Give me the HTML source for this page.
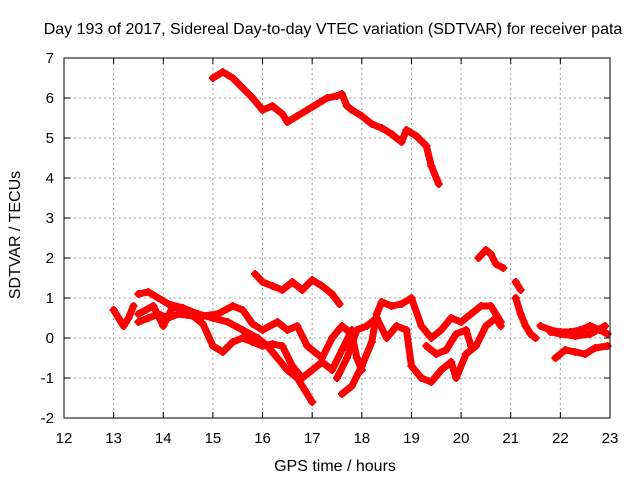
<!DOCTYPE html>
<html><head><meta charset="utf-8"><style>
body{margin:0;background:#fff;}
svg{display:block;font-family:"Liberation Sans",sans-serif;}
</style></head><body>
<svg id="chart" width="640" height="480" viewBox="0 0 640 480">
<text x="333" y="34" font-size="16" text-anchor="middle">Day 193 of 2017, Sidereal Day-to-day VTEC variation (SDTVAR) for receiver pata</text>
<text x="335" y="471" font-size="16" text-anchor="middle">GPS time / hours</text>
<text transform="translate(20,235) rotate(-90)" font-size="16" text-anchor="middle">SDTVAR / TECUs</text>
<g id="grid"></g><g id="series"></g><g id="axes"></g>
</svg>
<script>
const xTicks=[12,13,14,15,16,17,18,19,20,21,22,23];
const yTicks=[-2,-1,0,1,2,3,4,5,6,7];
const trackA=[[15.0,6.5],[15.2,6.65],[15.4,6.5],[15.6,6.25],[15.8,6.0],[16.0,5.7],[16.2,5.8],[16.4,5.6],[16.5,5.4],[16.7,5.55],[16.9,5.7],[17.1,5.85],[17.3,6.0],[17.5,6.05],[17.6,6.1],[17.7,5.8],[17.8,5.7],[18.0,5.55],[18.2,5.35],[18.4,5.25],[18.6,5.1],[18.8,4.9],[18.9,5.2],[19.1,5.05],[19.3,4.8],[19.4,4.3],[19.55,3.85]];
const trackB=[[15.85,1.6],[16.0,1.4],[16.2,1.3],[16.4,1.2],[16.6,1.4],[16.8,1.2],[17.0,1.45],[17.2,1.3],[17.4,1.1],[17.55,0.85]];
const trackC=[[13.5,1.1],[13.7,1.15],[13.9,1.0],[14.1,0.85],[14.4,0.75],[14.7,0.6],[15.0,0.5],[15.3,0.4],[15.6,0.2],[15.9,0.0],[16.1,-0.2],[16.3,-0.5],[16.5,-0.8],[16.7,-1.0],[16.85,-1.3],[17.0,-1.6]];
const trackD=[[13.0,0.7],[13.1,0.5],[13.2,0.3],[13.3,0.5],[13.4,0.8]];
const trackE=[[13.5,0.4],[13.7,0.5],[13.9,0.6],[14.1,0.5],[14.3,0.6],[14.6,0.55],[14.8,0.35],[15.0,-0.2],[15.2,-0.35],[15.4,-0.1],[15.6,0.0],[15.8,-0.1],[16.0,-0.2],[16.2,-0.15],[16.4,-0.2],[16.6,-0.7],[16.8,-1.0],[17.0,-0.8],[17.2,-0.6],[17.4,-0.8],[17.6,-0.3],[17.8,0.2]];
const trackF=[[13.5,0.6],[13.8,0.8],[14.0,0.3],[14.2,0.8],[14.5,0.6],[14.8,0.55],[15.1,0.6],[15.4,0.8],[15.6,0.7],[15.8,0.35],[16.0,0.2],[16.3,0.4],[16.5,0.2],[16.7,0.3],[16.9,-0.2],[17.2,-0.5],[17.4,0.0],[17.6,0.3],[17.8,0.1],[17.9,-0.5],[18.0,-0.8]];
const trackG=[[17.6,-1.4],[17.8,-1.2],[18.0,-0.7],[18.2,-0.1],[18.3,0.6],[18.4,0.9],[18.6,0.8],[18.8,0.85],[19.0,1.0],[19.2,0.3],[19.4,0.0],[19.6,0.2],[19.8,0.5],[20.0,0.4],[20.2,0.6],[20.4,0.8],[20.6,0.8],[20.8,0.4]];
const trackH=[[17.5,-1.0],[17.7,-0.5],[17.9,0.2],[18.1,0.3],[18.3,0.5],[18.5,0.0],[18.7,0.3],[18.9,0.2],[19.0,-0.7],[19.2,-1.0],[19.4,-1.1],[19.6,-0.8],[19.8,-0.6],[19.9,-1.0],[20.1,-0.4],[20.3,-0.2],[20.5,0.3],[20.7,0.5],[20.8,0.3]];
const trackI=[[19.3,-0.2],[19.5,-0.4],[19.7,-0.3],[19.9,0.1],[20.1,0.2],[20.2,-0.2]];
const trackJ=[[20.35,2.0],[20.5,2.2],[20.6,2.1],[20.7,1.85],[20.85,1.75]];
const trackK=[[21.1,1.4],[21.2,1.2]];
const trackL=[[21.1,1.0],[21.2,0.6],[21.3,0.3],[21.4,0.1],[21.5,0.0]];
const trackM=[[21.6,0.3],[21.8,0.2],[22.0,0.15],[22.2,0.15],[22.4,0.2],[22.6,0.3],[22.8,0.2],[22.95,0.1]];
const trackN=[[21.8,0.15],[22.0,0.1],[22.3,0.05],[22.6,0.1],[22.9,0.3]];
const trackO=[[21.9,-0.5],[22.1,-0.3],[22.3,-0.35],[22.5,-0.4],[22.7,-0.25],[22.95,-0.2]];
const tracks=[trackA,trackB,trackC,trackD,trackE,trackF,trackG,trackH,trackI,trackJ,trackK,trackL,trackM,trackN,trackO];

const L=64,R=610,T=58,B=418,NS="http://www.w3.org/2000/svg";
const xs=h=>L+(h-12)/(23-12)*(R-L);
const ys=v=>B-(v+2)/9*(B-T);
function mk(tag,attrs,parent){const e=document.createElementNS(NS,tag);for(const k in attrs)e.setAttribute(k,attrs[k]);parent.appendChild(e);return e;}
const grid=document.getElementById('grid'),axes=document.getElementById('axes'),ser=document.getElementById('series');
xTicks.forEach(t=>{const x=xs(t);
 if(t>12&&t<23){const g=mk('line',{x1:x,x2:x,y1:T,y2:B,stroke:'#a0a0a0','stroke-dasharray':'2,3'},grid);
 }
 mk('line',{x1:x,x2:x,y1:B,y2:B-6,stroke:'#000'},axes);mk('line',{x1:x,x2:x,y1:T,y2:T+6,stroke:'#000'},axes);
 const tx=mk('text',{x:x,y:B+25,'font-size':'15','text-anchor':'middle'},axes);tx.textContent=t;
 });
yTicks.forEach(t=>{const y=ys(t);
 if(t>-2&&t<7){const g=mk('line',{x1:L,x2:R,y1:y,y2:y,stroke:'#a0a0a0','stroke-dasharray':'2,3'},grid);
 }
 mk('line',{x1:L,x2:L+6,y1:y,y2:y,stroke:'#000'},axes);mk('line',{x1:R,x2:R-6,y1:y,y2:y,stroke:'#000'},axes);
 const tx=mk('text',{x:L-10,y:y+5,'font-size':'15','text-anchor':'end'},axes);tx.textContent=t;
 });
const fr=mk('rect',{x:L,y:T,width:R-L,height:B-T,fill:'none',stroke:'#000'},axes);

tracks.forEach(tr=>{
 const g=mk('g',{},ser);
 
 mk('polyline',{points:tr.map(p=>xs(p[0])+','+ys(p[1])).join(' '),fill:'none',stroke:'#ff0000','stroke-width':'7','stroke-linejoin':'round','stroke-linecap':'round'},g);
 tr.forEach(p=>{const x=xs(p[0]),y=ys(p[1]);
  const m=mk('path',{d:`M${x-4},${y}H${x+4}M${x},${y-4}V${y+4}`,stroke:'#ff0000','stroke-width':'2'},g);
  });
});
</script>
</body></html>
